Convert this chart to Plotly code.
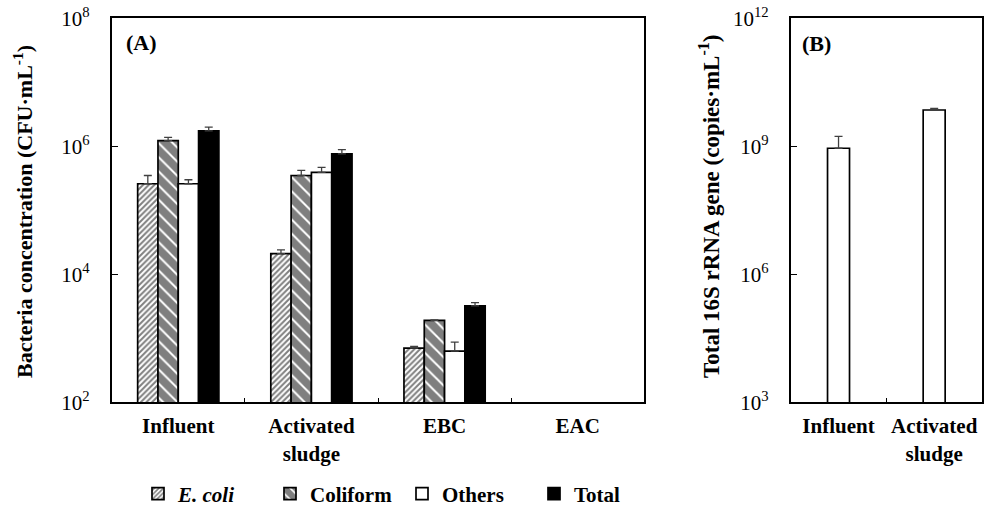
import plotly.graph_objects as go

# ---- data ----
sites = ["Influent", "Activated<br>sludge", "EBC", "EAC"]
ecoli = [2.6e5, 2.1e4, 7.0e2, None]
ecoli_sd = [0.9e5, 0.3e4, 0.5e2, None]
coliform = [1.23e6, 3.5e5, 1.9e3, None]
coliform_sd = [1.5e5, 0.7e5, 0.4e2, None]
others = [2.6e5, 3.9e5, 6.3e2, None]
others_sd = [0.4e5, 0.8e5, 2.4e2, None]
total = [1.74e6, 7.6e5, 3.2e3, None]
total_sd = [2.6e5, 1.3e5, 4.0e2, None]

gene_sites = ["Influent", "Activated<br>sludge"]
gene_copies = [9.0e8, 7.1e9]
gene_sd = [8.0e8, 0.6e9]

left_tickvals = [1e2, 1e4, 1e6, 1e8]
left_ticktext = ["10<sup>2</sup>", "10<sup>4</sup>", "10<sup>6</sup>", "10<sup>8</sup>"]
right_tickvals = [1e3, 1e6, 1e9, 1e12]
right_ticktext = ["10<sup>3</sup>", "10<sup>6</sup>", "10<sup>9</sup>", "10<sup>12</sup>"]

FONT = "Liberation Serif"
W, H = 986, 514


def px_x(x):
    return x / W


def px_y(y):
    return 1 - y / H


def err(sd):
    return dict(type="data", array=[s if s is not None else 0 for s in sd],
                arrayminus=[0] * len(sd), symmetric=False,
                color="#404040", thickness=1.3, width=4)


fig = go.Figure()

line = dict(color="black", width=1.7)
fig.add_trace(go.Bar(
    x=sites, y=ecoli, name="<b><i>E. coli</i></b>", error_y=err(ecoli_sd),
    marker=dict(color="white", line=line,
                pattern=dict(shape="/", size=4, solidity=0.5,
                             fgcolor="black", bgcolor="white")),
    xaxis="x", yaxis="y"))
fig.add_trace(go.Bar(
    x=sites, y=coliform, name="<b>Coliform</b>", error_y=err(coliform_sd),
    marker=dict(color="white", line=line,
                pattern=dict(shape="\\", size=10, solidity=0.8,
                             fgcolor="black", bgcolor="white")),
    xaxis="x", yaxis="y"))
fig.add_trace(go.Bar(
    x=sites, y=others, name="<b>Others</b>", error_y=err(others_sd),
    marker=dict(color="white", line=line),
    xaxis="x", yaxis="y"))
fig.add_trace(go.Bar(
    x=sites, y=total, name="<b>Total</b>", error_y=err(total_sd),
    marker=dict(color="black", line=line),
    xaxis="x", yaxis="y"))

fig.add_trace(go.Bar(
    x=gene_sites, y=gene_copies, width=0.23, showlegend=False,
    error_y=err(gene_sd),
    marker=dict(color="white", line=line),
    xaxis="x2", yaxis="y2"))

tick_font = dict(family=FONT, size=21, color="black")
cat_font = dict(family=FONT, size=21, color="black")

axis_common = dict(showline=True, linecolor="black", linewidth=1.6, mirror=True,
                   showgrid=False, zeroline=False, automargin=False)

fig.update_layout(
    width=W, height=H,
    margin=dict(l=0, r=0, t=0, b=0, autoexpand=False),
    paper_bgcolor="white", plot_bgcolor="white",
    barmode="group", bargap=0.39, bargroupgap=0,
    font=dict(family=FONT, color="black"),
    xaxis=dict(domain=[px_x(111.7), px_x(644.3)], anchor="y",
               type="category", ticks="inside", ticklen=5, tickwidth=1.4,
               tickcolor="black", tickson="boundaries",
               tickfont=cat_font, ticklabelstandoff=4,
               tickvals=sites, ticktext=["<b>" + s + "</b>" for s in sites],
               **axis_common),
    yaxis=dict(domain=[px_y(402.3), px_y(18.3)], anchor="x",
               type="log", range=[2, 8], ticks="inside", ticklen=6, tickwidth=1.4,
               tickcolor="black", tickvals=left_tickvals, ticktext=left_ticktext,
               tickfont=tick_font, ticklabelstandoff=16,
               **axis_common),
    xaxis2=dict(domain=[px_x(790.7), px_x(982)], anchor="y2",
                type="category", ticks="inside", ticklen=5, tickwidth=1.4,
                tickcolor="black", tickson="boundaries",
                tickfont=cat_font, ticklabelstandoff=4,
                tickvals=gene_sites, ticktext=["<b>" + s + "</b>" for s in gene_sites],
                **axis_common),
    yaxis2=dict(domain=[px_y(402.3), px_y(18.3)], anchor="x2",
                type="log", range=[3, 12], ticks="inside", ticklen=6, tickwidth=1.4,
                tickcolor="black", tickvals=right_tickvals, ticktext=right_ticktext,
                tickfont=tick_font, ticklabelstandoff=16,
                **axis_common),
    legend=dict(orientation="h", x=px_x(138), y=px_y(494), xanchor="left",
                yanchor="middle", font=dict(family=FONT, size=21, color="black"),
                entrywidth=87, entrywidthmode="pixels",
                itemwidth=30, tracegroupgap=0, bgcolor="rgba(0,0,0,0)"),
    annotations=[
        dict(text="<b>(A)</b>", x=px_x(124), y=px_y(42), xref="paper", yref="paper",
             xanchor="left", yanchor="middle", showarrow=False,
             font=dict(family=FONT, size=22, color="black")),
        dict(text="<b>(B)</b>", x=px_x(800), y=px_y(43), xref="paper", yref="paper",
             xanchor="left", yanchor="middle", showarrow=False,
             font=dict(family=FONT, size=22, color="black")),
        dict(text="<b>Bacteria concentration (CFU·mL<sup>-1</sup>)</b>",
             x=px_x(23), y=px_y(212), xref="paper", yref="paper",
             xanchor="center", yanchor="middle", textangle=-90, showarrow=False,
             font=dict(family=FONT, size=22, color="black")),
        dict(text="<b>Total 16S rRNA gene (copies·mL<sup>-1</sup>)</b>",
             x=px_x(709), y=px_y(206), xref="paper", yref="paper",
             xanchor="center", yanchor="middle", textangle=-90, showarrow=False,
             font=dict(family=FONT, size=23, color="black")),
    ],
)

fig.write_html("out.html")
